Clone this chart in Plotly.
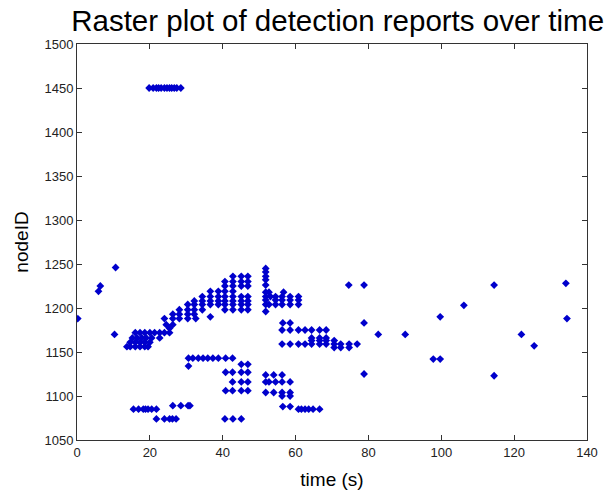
import plotly.graph_objects as go

# Node IDs (rows of the raster) and the detection times recorded for each
node_ids = [
    1450, 1246, 1225, 1219, 1188, 1170,
    1156, 1161, 1166, 1172, 1177, 1181, 1188, 1190, 1193, 1198, 1204, 1208,
    1213, 1219, 1225, 1230, 1236,
    1245, 1241, 1236, 1232, 1226, 1218, 1213, 1209, 1204, 1196,
    1183, 1175, 1166, 1163, 1159, 1155,
    1170, 1190, 1203, 1226, 1123, 1157, 1228, 1188, 1142, 1125,
    1143, 1134, 1136, 1127, 1124, 1116, 1106, 1104, 1100, 1088, 1085,
    1089, 1085, 1074,
]
detection_times = [
    [19.8, 20.9, 21.8, 22.4, 23.1, 24.0, 24.7, 25.4, 26.0, 26.7, 27.4, 28.5],
    [10.6], [6.4], [5.9], [0.2], [10.3],
    [13.7, 14.6, 16.0, 17.3, 18.6, 19.5],
    [14.6, 16.0, 17.3, 18.6, 20.0],
    [15.2, 16.5, 17.8, 19.0, 20.5, 22.7],
    [16.0, 17.3, 18.6, 20.0, 21.3, 22.7, 24.0, 25.4],
    [25.4],
    [24.5, 26.3],
    [24.0, 26.3, 28.1, 30.4, 32.6],
    [36.6],
    [26.3, 28.1, 30.4, 32.2],
    [28.1, 30.4, 32.2, 34.4, 40.6, 42.8, 45.1, 46.9],
    [30.4, 32.2, 34.4, 36.6, 38.8, 40.6, 42.8, 45.1, 46.9],
    [32.2, 34.4, 36.6, 38.8, 40.6, 42.8, 45.1, 46.9],
    [34.4, 36.6, 38.8, 40.6, 42.8, 45.1, 46.9],
    [36.6, 38.8, 40.6, 42.8],
    [40.6, 42.8, 45.1, 46.9],
    [40.6, 42.8, 45.1, 46.9],
    [42.8, 45.1, 46.9],
    [51.8], [51.8], [51.8], [51.8], [51.8, 74.6, 78.8],
    [51.8, 52.7, 56.7],
    [51.8, 53.1, 54.5, 56.3, 58.5, 60.8],
    [51.8, 54.5, 56.3, 58.5, 60.8],
    [51.8, 52.7, 54.5, 56.3, 58.5, 60.8],
    [51.8],
    [56.5, 58.5, 78.8],
    [56.3, 58.5, 60.8, 62.6, 64.4, 66.6, 68.4],
    [64.4, 66.6, 68.4],
    [64.4, 66.6, 68.4, 70.6],
    [56.3, 58.5, 60.8, 62.6, 64.4, 66.6, 68.4, 70.6, 72.4, 74.7, 76.9],
    [70.6, 72.4, 74.7],
    [82.7, 90.1, 122.0], [99.7], [106.2], [114.5], [114.5], [125.5],
    [134.2], [134.5], [97.8, 99.7], [78.8],
    [30.6, 31.8, 33.3, 34.6, 35.9, 37.3, 38.8, 40.8, 42.7],
    [30.6],
    [45.1, 46.9],
    [40.8, 42.7, 45.1, 46.9],
    [51.8, 54.0, 56.3],
    [42.7, 45.1, 46.9, 51.8, 52.7, 54.5, 56.3, 58.5],
    [40.8, 42.7, 45.1, 46.9],
    [51.8, 54.0, 56.3, 58.5],
    [56.3, 58.5],
    [56.5, 58.5],
    [60.8, 61.6, 62.6, 63.6, 64.8, 66.6],
    [26.3, 28.5, 30.5, 31.0],
    [15.5, 16.9, 18.2, 18.8, 19.5, 20.5, 21.8],
    [21.8, 24.0, 25.4, 26.2, 27.2, 40.6, 42.8, 45.1],
]

x_ticks = [0, 20, 40, 60, 80, 100, 120, 140]
y_ticks = [1050, 1100, 1150, 1200, 1250, 1300, 1350, 1400, 1450, 1500]

xs, ys = [], []
for nid, times in zip(node_ids, detection_times):
    for t in times:
        xs.append(t)
        ys.append(nid)

fig = go.Figure(go.Scatter(
    x=xs, y=ys, mode="markers",
    marker=dict(symbol="diamond", size=6, color="#0000cc", line=dict(width=0)),
    showlegend=False,
))

axis_common = dict(
    showgrid=False, zeroline=False, showline=True, linecolor="#333333",
    linewidth=1, mirror="ticks", ticks="inside", ticklen=5, tickcolor="#333333",
    tickfont=dict(family="Liberation Sans, Arial, sans-serif", size=13, color="#222222"),
)

fig.update_layout(
    width=610, height=499,
    margin=dict(l=77, r=12, t=44, b=56),
    paper_bgcolor="white", plot_bgcolor="white",
    font=dict(family="Liberation Sans, Arial, sans-serif", color="#000000"),
    title=dict(text="Raster plot of detection reports over time",
               font=dict(size=29.5, color="#000000"),
               x=0.5535, xanchor="center", xref="container",
               y=1 - 21 / 499, yanchor="middle", yref="container"),
    xaxis=dict(range=[0, 140], tickvals=x_ticks,
               title=dict(text="time (s)", font=dict(size=19), standoff=14),
               **axis_common),
    yaxis=dict(range=[1050, 1500], tickvals=y_ticks,
               title=dict(text="nodeID", font=dict(size=19), standoff=10),
               **axis_common),
)

fig.write_html("out.html")
